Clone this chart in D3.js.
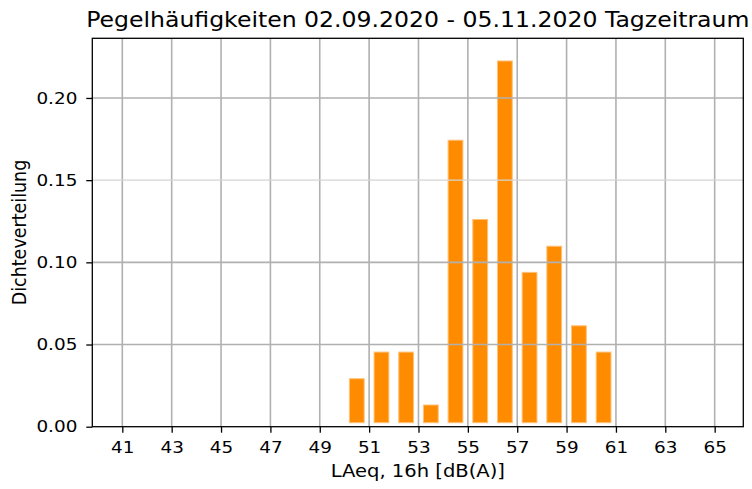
<!DOCTYPE html>
<html>
<head>
<meta charset="utf-8">
<script src="https://cdn.jsdelivr.net/npm/d3@7"></script>
<style>
  body { margin: 0; background: #fff; }
  text { font-family: "DejaVu Sans", sans-serif; fill: #000; }
</style>
</head>
<body>
<div id="chart"></div>
<script>
// data
var binStart = [50, 51, 52, 53, 54, 55, 56, 57, 58, 59, 60];
var density  = [0.0292, 0.0454, 0.0454, 0.0132, 0.1743, 0.1261, 0.2225, 0.0939, 0.1098, 0.0614, 0.0454];
var xTicks = [41, 43, 45, 47, 49, 51, 53, 55, 57, 59, 61, 63, 65];
var yTicks = [0, 0.05, 0.10, 0.15, 0.20];

var titleText = "Pegelhäufigkeiten 02.09.2020 - 05.11.2020 Tagzeitraum";
var xLabel = "LAeq, 16h [dB(A)]";
var yLabel = "Dichteverteilung";

// the reference picture is a bit wider than tall, so text gets stretched sideways
var sx = 1.15;

// dimensions
var W = 752, H = 489;
var margin = {top: 38.3, right: 8.7, bottom: 62.3, left: 92.3},
    width = W - margin.left - margin.right,
    height = H - margin.top - margin.bottom;

var svg = d3.select("#chart")
  .append("svg")
    .attr("width", W)
    .attr("height", H);

var g = svg.append("g")
    .attr("transform", "translate(" + margin.left + "," + margin.top + ")");

var x = d3.scaleLinear().domain([39.784, 66.16]).range([0, width]);
var y = d3.scaleLinear().domain([0, 0.2363]).range([height, 0]);

// bars
var barW = 0.6;
g.selectAll(".bar")
  .data(binStart)
  .join("rect")
    .attr("class", "bar")
    .attr("x", function(d) { return x(d + 0.5 - barW / 2); })
    .attr("width", function(d) { return x(d + 0.5 + barW / 2) - x(d + 0.5 - barW / 2); })
    .attr("y", function(d, i) { return y(density[i]); })
    .attr("height", function(d, i) { return Math.max(0, y(0) - 4 - y(density[i])); })
    .attr("fill", "#ff8c00")
    .attr("stroke", "#ffc27a")
    .attr("stroke-width", 1);

// grid (drawn over bars)
g.selectAll(".vgrid")
  .data(xTicks)
  .join("line")
    .attr("class", "vgrid")
    .attr("x1", d => x(d)).attr("x2", d => x(d))
    .attr("y1", 0).attr("y2", height)
    .attr("stroke", "#b0b0b0")
    .attr("stroke-width", 1.6);

g.selectAll(".hgrid")
  .data(yTicks.filter(d => d > 0))
  .join("line")
    .attr("class", "hgrid")
    .attr("x1", 0).attr("x2", width)
    .attr("y1", d => y(d)).attr("y2", d => y(d))
    .attr("stroke", d => Math.abs(d - 0.15) < 1e-9 ? "#d4d4d4" : "#b0b0b0")
    .attr("stroke-width", d => Math.abs(d - 0.15) < 1e-9 ? 1.2 : 1.6);

// axes
var xAxis = g.append("g")
  .attr("transform", "translate(0," + height + ")")
  .call(d3.axisBottom(x).tickValues(xTicks).tickFormat(d3.format("d")).tickSize(6).tickPadding(9));

var yAxis = g.append("g")
  .call(d3.axisLeft(y).tickValues(yTicks).tickFormat(d3.format(".2f")).tickSize(6).tickPadding(7));

[xAxis, yAxis].forEach(function(a) {
  a.select(".domain").remove();
  a.selectAll(".tick line").attr("stroke", "#000").attr("stroke-width", 1.3);
  a.selectAll(".tick text")
    .attr("font-size", "16px")
    .attr("font-family", "DejaVu Sans")
    .attr("transform", "scale(" + sx + ",1)");
});

// frame
g.append("rect")
  .attr("x", 0).attr("y", 0)
  .attr("width", width).attr("height", height)
  .attr("fill", "none")
  .attr("stroke", "#000")
  .attr("stroke-width", 1.3);

// labels
svg.append("text")
  .attr("transform", "translate(" + (margin.left + width / 2) + ",27) scale(" + sx + ",1)")
  .attr("text-anchor", "middle")
  .attr("font-size", "20.5px")
  .text(titleText);

svg.append("text")
  .attr("transform", "translate(" + (margin.left + width / 2) + ",477.3) scale(" + sx + ",1)")
  .attr("text-anchor", "middle")
  .attr("font-size", "17px")
  .text(xLabel);

svg.append("text")
  .attr("transform", "translate(26," + (margin.top + height / 2) + ") scale(" + sx + ",1) rotate(-90)")
  .attr("text-anchor", "middle")
  .attr("font-size", "17.5px")
  .text(yLabel);
</script>
</body>
</html>
